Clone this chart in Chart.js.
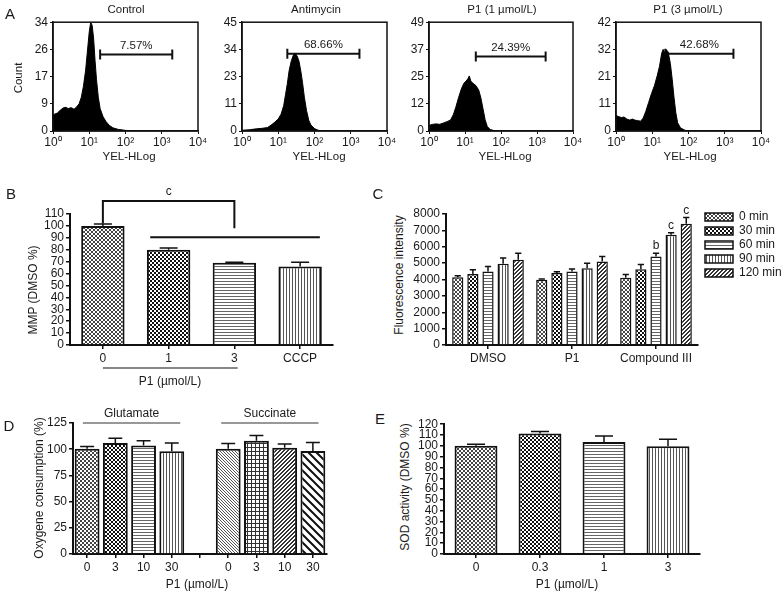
<!DOCTYPE html>
<html lang="en">
<head>
<meta charset="UTF-8">
<title>P1 mitochondrial assays</title>
<script src="https://cdn.jsdelivr.net/npm/chart.js"></script>
<style>
  body { margin: 0; background: #fff; }
  #fig { position: relative; width: 784px; height: 592px; overflow: hidden;
         font-family: "Liberation Sans", Arial, sans-serif; color: #1a1a1a; }
  #fig canvas { position: absolute; }
  .t { position: absolute; white-space: nowrap; font-size: 12px; line-height: 1;
       transform: translate(-50%, -50%); }
  .small { font-size: 11.5px; }
  .letter { font-size: 15px; }
  .rot { transform: translate(-50%, -50%) rotate(-90deg); }
</style>
</head>
<body>
<div id="fig">
  <div class="t letter" style="left:10px;top:13px">A</div>
  <div class="t small" style="left:126px;top:10px">Control</div>
  <div class="t small" style="left:316px;top:10px">Antimycin</div>
  <div class="t small" style="left:502px;top:10px">P1 (1 µmol/L)</div>
  <div class="t small" style="left:688px;top:10px">P1 (3 µmol/L)</div>
  <div class="t small rot" style="left:19px;top:78px">Count</div>
  <div class="t small" style="left:129px;top:157px">YEL-HLog</div>
  <div class="t small" style="left:319px;top:157px">YEL-HLog</div>
  <div class="t small" style="left:505px;top:157px">YEL-HLog</div>
  <div class="t small" style="left:690px;top:157px">YEL-HLog</div>

  <div class="t letter" style="left:11px;top:193px">B</div>
  <div class="t rot" style="left:33px;top:290px">MMP (DMSO %)</div>
  <div class="t" style="left:170px;top:381px">P1 (µmol/L)</div>

  <div class="t letter" style="left:378px;top:193px">C</div>
  <div class="t rot" style="left:399px;top:275px">Fluorescence intensity</div>

  <div class="t letter" style="left:9px;top:425px">D</div>
  <div class="t rot" style="left:39px;top:488px">Oxygene consumption (%)</div>
  <div class="t" style="left:197px;top:584px">P1 (µmol/L)</div>

  <div class="t letter" style="left:380px;top:418px">E</div>
  <div class="t rot" style="left:405px;top:487px">SOD activity (DMSO %)</div>
  <div class="t" style="left:567px;top:584px">P1 (µmol/L)</div>
</div>

<script>
// ---- A: flow cytometry histograms (x = log10 of YEL intensity) ----
const ctrlX = [0, 0.05, 0.12, 0.2, 0.28, 0.35, 0.42, 0.5, 0.58, 0.65, 0.72, 0.78, 0.84, 0.9, 0.95, 1.0, 1.04, 1.08, 1.12, 1.16, 1.2, 1.25, 1.3, 1.38, 1.46, 1.55, 1.65, 1.8, 2.0, 2.2];
const ctrlY = [5.0, 5.3, 5.6, 6.5, 7.2, 7.4, 7.0, 7.3, 6.8, 7.5, 8.5, 10.5, 14, 19, 25, 31, 34, 33, 29, 22, 16, 10.5, 7, 4.5, 3, 1.8, 1.0, 0.5, 0.2, 0];
const antiX = [0, 0.2, 0.4, 0.55, 0.7, 0.8, 0.9, 1.0, 1.08, 1.15, 1.2, 1.25, 1.3, 1.36, 1.42, 1.47, 1.52, 1.57, 1.62, 1.67, 1.72, 1.78, 1.84, 1.9, 2.0, 2.1, 2.25];
const antiY = [0.3, 0.5, 0.9, 1.1, 1.4, 2.4, 3.6, 5.0, 7.0, 10.5, 15, 19.5, 25, 29, 31.5, 32, 31, 29, 25, 20, 14, 8.5, 4.5, 2.5, 1.0, 0.3, 0];
const p1lowX = [0, 0.1, 0.2, 0.3, 0.4, 0.5, 0.6, 0.68, 0.75, 0.82, 0.9, 0.97, 1.03, 1.08, 1.12, 1.16, 1.22, 1.3, 1.38, 1.44, 1.5, 1.56, 1.62, 1.7, 1.8, 1.9];
const p1lowY = [2.5, 3.0, 3.2, 3.0, 3.6, 4.2, 5.0, 7.5, 11, 15, 19, 21.5, 22.5, 23.5, 24.8, 22.5, 21.5, 20.5, 18.5, 15, 10, 5, 2, 0.7, 0.2, 0];
const p1highX = [0, 0.08, 0.15, 0.22, 0.3, 0.38, 0.45, 0.52, 0.6, 0.68, 0.75, 0.82, 0.9, 0.98, 1.06, 1.14, 1.2, 1.26, 1.3, 1.34, 1.38, 1.44, 1.5, 1.55, 1.6, 1.65, 1.7, 1.78, 1.9, 2.0];
const p1highY = [6.0, 5.5, 5.2, 5.4, 4.6, 4.2, 4.6, 4.2, 4.0, 3.8, 5.0, 7.5, 11, 14.5, 17.5, 21.5, 25, 30, 31.5, 30, 31.5, 30.5, 26, 20, 13, 7, 3.2, 1.2, 0.3, 0];
const histMax = [34, 45, 49, 42];
const gateText = ['7.57%', '68.66%', '24.39%', '42.68%'];
const gateFrom = [1.3, 1.25, 1.3, 1.36];
const gateTo = [3.29, 3.24, 3.24, 3.24];
const gateLevel = [23.9, 31.9, 33.6, 29.8];
const decadeLabels = ['10⁰', '10¹', '10²', '10³', '10⁴'];

// ---- B: MMP ----
const mmpLabels = ['0', '1', '3', 'CCCP'];
const mmpValues = [100, 80, 69, 66];
const mmpErrors = [1.5, 1.5, 0.5, 3.5];

// ---- C: fluorescence over time ----
const fluoGroups = ['DMSO', 'P1', 'Compound III'];
const fluoTimes = ['0 min', '30 min', '60 min', '90 min', '120 min'];
const fluo0min = [4130, 3980, 4100];
const fluo30min = [4340, 4390, 4630];
const fluo60min = [4490, 4490, 5410];
const fluo90min = [4960, 4690, 6730];
const fluo120min = [5200, 5100, 7410];
const fluoErr0min = [100, 50, 200];
const fluoErr30min = [250, 80, 280];
const fluoErr60min = [300, 150, 200];
const fluoErr90min = [350, 300, 120];
const fluoErr120min = [400, 300, 380];
const fluoSig = [['', '', ''], ['', '', ''], ['', '', 'b'], ['', '', 'c'], ['', '', 'c']];

// ---- D: oxygen consumption ----
const o2Labels = ['0', '3', '10', '30', '', '0', '3', '10', '30'];
const o2Values = [100.5, 106, 103.5, 98, null, 100.5, 108, 101.5, 98.3];
const o2Errors = [2, 4.5, 4.5, 8, null, 5, 5, 3.5, 8];
const o2Groups = ['Glutamate', 'Succinate'];

// ---- E: SOD activity ----
const sodLabels = ['0', '0.3', '1', '3'];
const sodValues = [100, 111.3, 103.5, 99.5];
const sodErrors = [1.5, 2, 5.5, 6.5];

Chart.defaults.font.family = '"Liberation Sans", Arial, sans-serif';
Chart.defaults.font.size = 12;
Chart.defaults.color = '#1a1a1a';

const fig = document.getElementById('fig');
const INK = '#111';

// hatch fills
function pattern(kind) {
  const c = document.createElement('canvas');
  const g = c.getContext('2d');
  let s = 4;
  if (kind === 'diagWide') s = 8;
  if (kind === 'hlines' || kind === 'vlines' || kind === 'diagFine') s = 3;
  c.width = s; c.height = s;
  g.fillStyle = '#fff';
  g.fillRect(0, 0, s, s);
  if (kind === 'fine') {
    g.fillStyle = '#444';
    for (let i = 0; i < 4; i++) { g.fillRect(i, i, 1, 1); g.fillRect(3 - i, i, 1, 1); }
  } else if (kind === 'checker') {
    g.fillStyle = INK;
    g.fillRect(2, 0, 2, 2); g.fillRect(0, 2, 2, 2);
  } else if (kind === 'hlines') {
    g.fillStyle = '#666'; g.fillRect(0, 0, 3, 1);
  } else if (kind === 'vlines') {
    g.fillStyle = '#555'; g.fillRect(0, 0, 1, 3);
  } else if (kind === 'diagFine') {
    g.fillStyle = '#555';
    for (let i = 0; i < 3; i++) g.fillRect(i, i, 1, 1);
  } else if (kind === 'grid') {
    g.fillStyle = '#333'; g.fillRect(0, 0, 4, 1); g.fillRect(0, 0, 1, 4);
  } else if (kind === 'diagDense') {
    g.fillStyle = '#333';
    for (let i = 0; i < 4; i++) { g.fillRect(3 - i, i, 1, 1); g.fillRect((4 - i) % 4, i, 1, 1); }
  } else if (kind === 'diagWide') {
    g.strokeStyle = INK; g.lineWidth = 2;
    g.beginPath();
    for (const k of [-8, 0, 8]) { g.moveTo(k - 1, -1); g.lineTo(k + 9, 9); }
    g.stroke();
  }
  return g.createPattern(c, 'repeat');
}
const pats = {};
['fine', 'checker', 'hlines', 'vlines', 'diagFine', 'grid', 'diagDense', 'diagWide'].forEach(k => pats[k] = pattern(k));

// canvas placed so that the chart area lands on `area` (page pixels)
function makeCanvas(area, W, H, PT, PR) {
  const cv = document.createElement('canvas');
  cv.width = area.r - area.l + W + PR;
  cv.height = area.b - area.t + PT + H;
  cv.style.left = (area.l - W) + 'px';
  cv.style.top = (area.t - PT) + 'px';
  fig.insertBefore(cv, fig.firstChild);
  return cv;
}
function opts(PT, PR, extra) {
  return Object.assign({
    responsive: false, animation: false, events: [],
    layout: { padding: { top: PT, right: PR, left: 0, bottom: 0 } }
  }, extra);
}

function barScales(W, H, yMax, yStep) {
  return {
    x: {
      afterFit: s => { s.height = H; },
      grid: { drawOnChartArea: false, offset: false, tickLength: 4, color: INK, lineWidth: 1.5 },
      border: { color: INK, width: 2 },
      ticks: { autoSkip: false, maxRotation: 0, padding: 2 }
    },
    y: {
      min: 0, max: yMax,
      afterFit: s => { s.width = W; },
      grid: { drawOnChartArea: false, tickLength: 4, color: INK, lineWidth: 1.5 },
      border: { color: INK, width: 2 },
      ticks: { stepSize: yStep, autoSkip: false, padding: 2, callback: v => String(v) }
    }
  };
}

// upward error bars
const errorBars = {
  id: 'errorBars',
  afterDatasetsDraw(chart) {
    const ctx = chart.ctx, y = chart.scales.y;
    chart.data.datasets.forEach((ds, i) => {
      if (!ds.errors) return;
      chart.getDatasetMeta(i).data.forEach((bar, j) => {
        const v = ds.data[j], e = ds.errors[j];
        if (v == null || e == null) return;
        const top = y.getPixelForValue(v + e);
        const half = Math.min(bar.width * 0.28, 9);
        ctx.save();
        ctx.strokeStyle = INK; ctx.lineWidth = 1.5;
        ctx.beginPath();
        ctx.moveTo(bar.x, bar.y); ctx.lineTo(bar.x, top);
        ctx.moveTo(bar.x - half, top); ctx.lineTo(bar.x + half, top);
        ctx.stroke();
        ctx.restore();
      });
    });
  }
};

// ---- A ----
const frame = {
  id: 'frame',
  afterDraw(chart) {
    const { ctx, chartArea: a } = chart;
    ctx.save(); ctx.strokeStyle = INK; ctx.lineWidth = 1.5;
    ctx.strokeRect(a.left, a.top, a.right - a.left, a.bottom - a.top);
    ctx.restore();
  }
};
const gateLabel = {
  id: 'gateLabel',
  afterDraw(chart, args, o) {
    const { ctx, scales: { x, y } } = chart;
    ctx.save();
    ctx.font = '11.5px "Liberation Sans", Arial';
    ctx.fillStyle = '#1a1a1a'; ctx.textAlign = 'center'; ctx.textBaseline = 'bottom';
    ctx.fillText(o.text, x.getPixelForValue(o.x), y.getPixelForValue(o.y) - 3);
    ctx.restore();
  }
};

const histAreas = [
  { l: 53, t: 21, r: 198, b: 131 },
  { l: 242, t: 21, r: 387, b: 131 },
  { l: 429, t: 21, r: 573, b: 131 },
  { l: 616, t: 21, r: 761, b: 131 }
];
const histXs = [ctrlX, antiX, p1lowX, p1highX];
const histYs = [ctrlY, antiY, p1lowY, p1highY];

histAreas.forEach((area, k) => {
  const cv = makeCanvas(area, 32, 20, 8, 14);
  new Chart(cv, {
    type: 'line',
    data: {
      datasets: [
        {
          data: histXs[k].map((x, i) => ({ x, y: histYs[k][i] })),
          fill: 'origin', backgroundColor: '#000', borderColor: '#000',
          borderWidth: 1, pointRadius: 0, tension: 0
        },
        {
          data: [{ x: gateFrom[k], y: gateLevel[k] }, { x: gateTo[k], y: gateLevel[k] }],
          borderColor: INK, borderWidth: 2, fill: false,
          pointStyle: 'line', pointRotation: 90, pointRadius: 5,
          pointBorderWidth: 2, pointBorderColor: INK
        }
      ]
    },
    options: opts(8, 14, {
      plugins: {
        legend: { display: false }, tooltip: { enabled: false },
        gateLabel: { text: gateText[k], x: (gateFrom[k] + gateTo[k]) / 2, y: gateLevel[k] }
      },
      scales: {
        x: {
          type: 'linear', min: 0, max: 4,
          afterFit: s => { s.height = 20; },
          grid: { drawOnChartArea: false, tickLength: 3, color: INK },
          border: { color: INK, width: 1.5 },
          ticks: { stepSize: 1, padding: 1, callback: v => decadeLabels[v] }
        },
        y: {
          min: 0, max: histMax[k],
          afterFit: s => { s.width = 32; },
          grid: { drawOnChartArea: false, tickLength: 3, color: INK },
          border: { color: INK, width: 1.5 },
          ticks: { stepSize: histMax[k] / 4, autoSkip: false, padding: 2, callback: v => Math.round(v) }
        }
      }
    }),
    plugins: [frame, gateLabel]
  });
});

// ---- B ----
const mmpMarks = {
  id: 'mmpMarks',
  afterDraw(chart) {
    const { ctx, chartArea, scales: { x, y } } = chart;
    ctx.save();
    ctx.strokeStyle = INK; ctx.lineWidth = 2;
    const x0 = x.getPixelForValue(0), x2 = x.getPixelForValue(2), yb = y.getPixelForValue(121);
    ctx.beginPath();
    ctx.moveTo(x0, y.getPixelForValue(102)); ctx.lineTo(x0, yb);
    ctx.lineTo(x2, yb); ctx.lineTo(x2, y.getPixelForValue(98));
    const yl = y.getPixelForValue(90.5);
    ctx.moveTo(x.getPixelForValue(0.72), yl); ctx.lineTo(x.getPixelForValue(3.3), yl);
    ctx.stroke();
    ctx.lineWidth = 1.2;
    ctx.beginPath();
    ctx.moveTo(x.getPixelForValue(0), chartArea.bottom + 23);
    ctx.lineTo(x.getPixelForValue(2.05), chartArea.bottom + 23);
    ctx.stroke();
    ctx.fillStyle = '#1a1a1a'; ctx.font = '12px "Liberation Sans", Arial';
    ctx.textAlign = 'center'; ctx.textBaseline = 'middle';
    ctx.fillText('c', (x0 + x2) / 2, yb - 9);
    ctx.restore();
  }
};
new Chart(makeCanvas({ l: 70, t: 214, r: 333, b: 345 }, 48, 45, 32, 8), {
  type: 'bar',
  data: {
    labels: mmpLabels,
    datasets: [{
      data: mmpValues, errors: mmpErrors,
      backgroundColor: [pats.fine, pats.checker, pats.hlines, pats.vlines],
      borderColor: INK, borderWidth: 2, barPercentage: 0.66, categoryPercentage: 1
    }]
  },
  options: opts(32, 8, {
    plugins: { legend: { display: false }, tooltip: { enabled: false } },
    scales: barScales(48, 45, 110, 10)
  }),
  plugins: [errorBars, mmpMarks]
});

// ---- C ----
const fluoSeries = [fluo0min, fluo30min, fluo60min, fluo90min, fluo120min];
const fluoErrSeries = [fluoErr0min, fluoErr30min, fluoErr60min, fluoErr90min, fluoErr120min];
const fluoFills = [pats.fine, pats.checker, pats.hlines, pats.vlines, pats.diagDense];
const sigLetters = {
  id: 'sigLetters',
  afterDraw(chart) {
    const { ctx, scales: { y } } = chart;
    ctx.save();
    ctx.fillStyle = '#1a1a1a'; ctx.font = '12px "Liberation Sans", Arial';
    ctx.textAlign = 'center'; ctx.textBaseline = 'middle';
    chart.data.datasets.forEach((ds, i) => {
      chart.getDatasetMeta(i).data.forEach((bar, j) => {
        if (!ds.sig[j]) return;
        ctx.fillText(ds.sig[j], bar.x, y.getPixelForValue(ds.data[j] + ds.errors[j]) - 7);
      });
    });
    ctx.restore();
  }
};
const fluoLegend = {
  id: 'fluoLegend',
  afterDraw(chart) {
    const { ctx, chartArea } = chart;
    ctx.save();
    ctx.font = '12px "Liberation Sans", Arial'; ctx.textBaseline = 'middle';
    chart.data.datasets.forEach((ds, i) => {
      const bx = chartArea.right + 7, by = chartArea.top + 3 + i * 14;
      ctx.fillStyle = ds.backgroundColor; ctx.fillRect(bx, by - 4, 28, 8);
      ctx.strokeStyle = INK; ctx.lineWidth = 1.5; ctx.strokeRect(bx, by - 4, 28, 8);
      ctx.fillStyle = '#1a1a1a'; ctx.fillText(ds.label, bx + 34, by);
    });
    ctx.restore();
  }
};
new Chart(makeCanvas({ l: 446, t: 214, r: 698, b: 345 }, 40, 25, 32, 86), {
  type: 'bar',
  data: {
    labels: fluoGroups,
    datasets: fluoTimes.map((t, i) => ({
      label: t, data: fluoSeries[i], errors: fluoErrSeries[i], sig: fluoSig[i],
      backgroundColor: fluoFills[i], borderColor: INK, borderWidth: 1.5,
      barPercentage: 0.74, categoryPercentage: 0.9
    }))
  },
  options: opts(32, 86, {
    plugins: { legend: { display: false }, tooltip: { enabled: false } },
    scales: barScales(40, 25, 8000, 1000)
  }),
  plugins: [errorBars, sigLetters, fluoLegend]
});

// ---- D ----
const groupLines = {
  id: 'groupLines',
  afterDraw(chart) {
    const { ctx, scales: { x, y } } = chart;
    const spans = [[-0.15, 3.3], [4.75, 8.2]];
    const yl = y.getPixelForValue(125);
    ctx.save();
    ctx.strokeStyle = '#333'; ctx.lineWidth = 1.2;
    ctx.fillStyle = '#1a1a1a'; ctx.font = '12px "Liberation Sans", Arial';
    ctx.textAlign = 'center'; ctx.textBaseline = 'bottom';
    spans.forEach((sp, i) => {
      const a = x.getPixelForValue(sp[0]), b = x.getPixelForValue(sp[1]);
      ctx.beginPath(); ctx.moveTo(a, yl); ctx.lineTo(b, yl); ctx.stroke();
      ctx.fillText(o2Groups[i], (a + b) / 2, yl - 3);
    });
    ctx.restore();
  }
};
new Chart(makeCanvas({ l: 73, t: 423, r: 327, b: 554 }, 30, 25, 20, 8), {
  type: 'bar',
  data: {
    labels: o2Labels,
    datasets: [{
      data: o2Values, errors: o2Errors,
      backgroundColor: [pats.fine, pats.checker, pats.hlines, pats.vlines, '#fff',
                        pats.diagFine, pats.grid, pats.diagDense, pats.diagWide],
      borderColor: INK, borderWidth: 2, barPercentage: 0.88, categoryPercentage: 1
    }]
  },
  options: opts(20, 8, {
    plugins: { legend: { display: false }, tooltip: { enabled: false } },
    scales: barScales(30, 25, 125, 25)
  }),
  plugins: [errorBars, groupLines]
});

// ---- E ----
new Chart(makeCanvas({ l: 444, t: 423, r: 700, b: 554 }, 32, 25, 8, 8), {
  type: 'bar',
  data: {
    labels: sodLabels,
    datasets: [{
      data: sodValues, errors: sodErrors,
      backgroundColor: [pats.fine, pats.checker, pats.hlines, pats.vlines],
      borderColor: INK, borderWidth: 2, barPercentage: 0.67, categoryPercentage: 1
    }]
  },
  options: opts(8, 8, {
    plugins: { legend: { display: false }, tooltip: { enabled: false } },
    scales: barScales(32, 25, 120, 10)
  }),
  plugins: [errorBars]
});
</script>
</body>
</html>
